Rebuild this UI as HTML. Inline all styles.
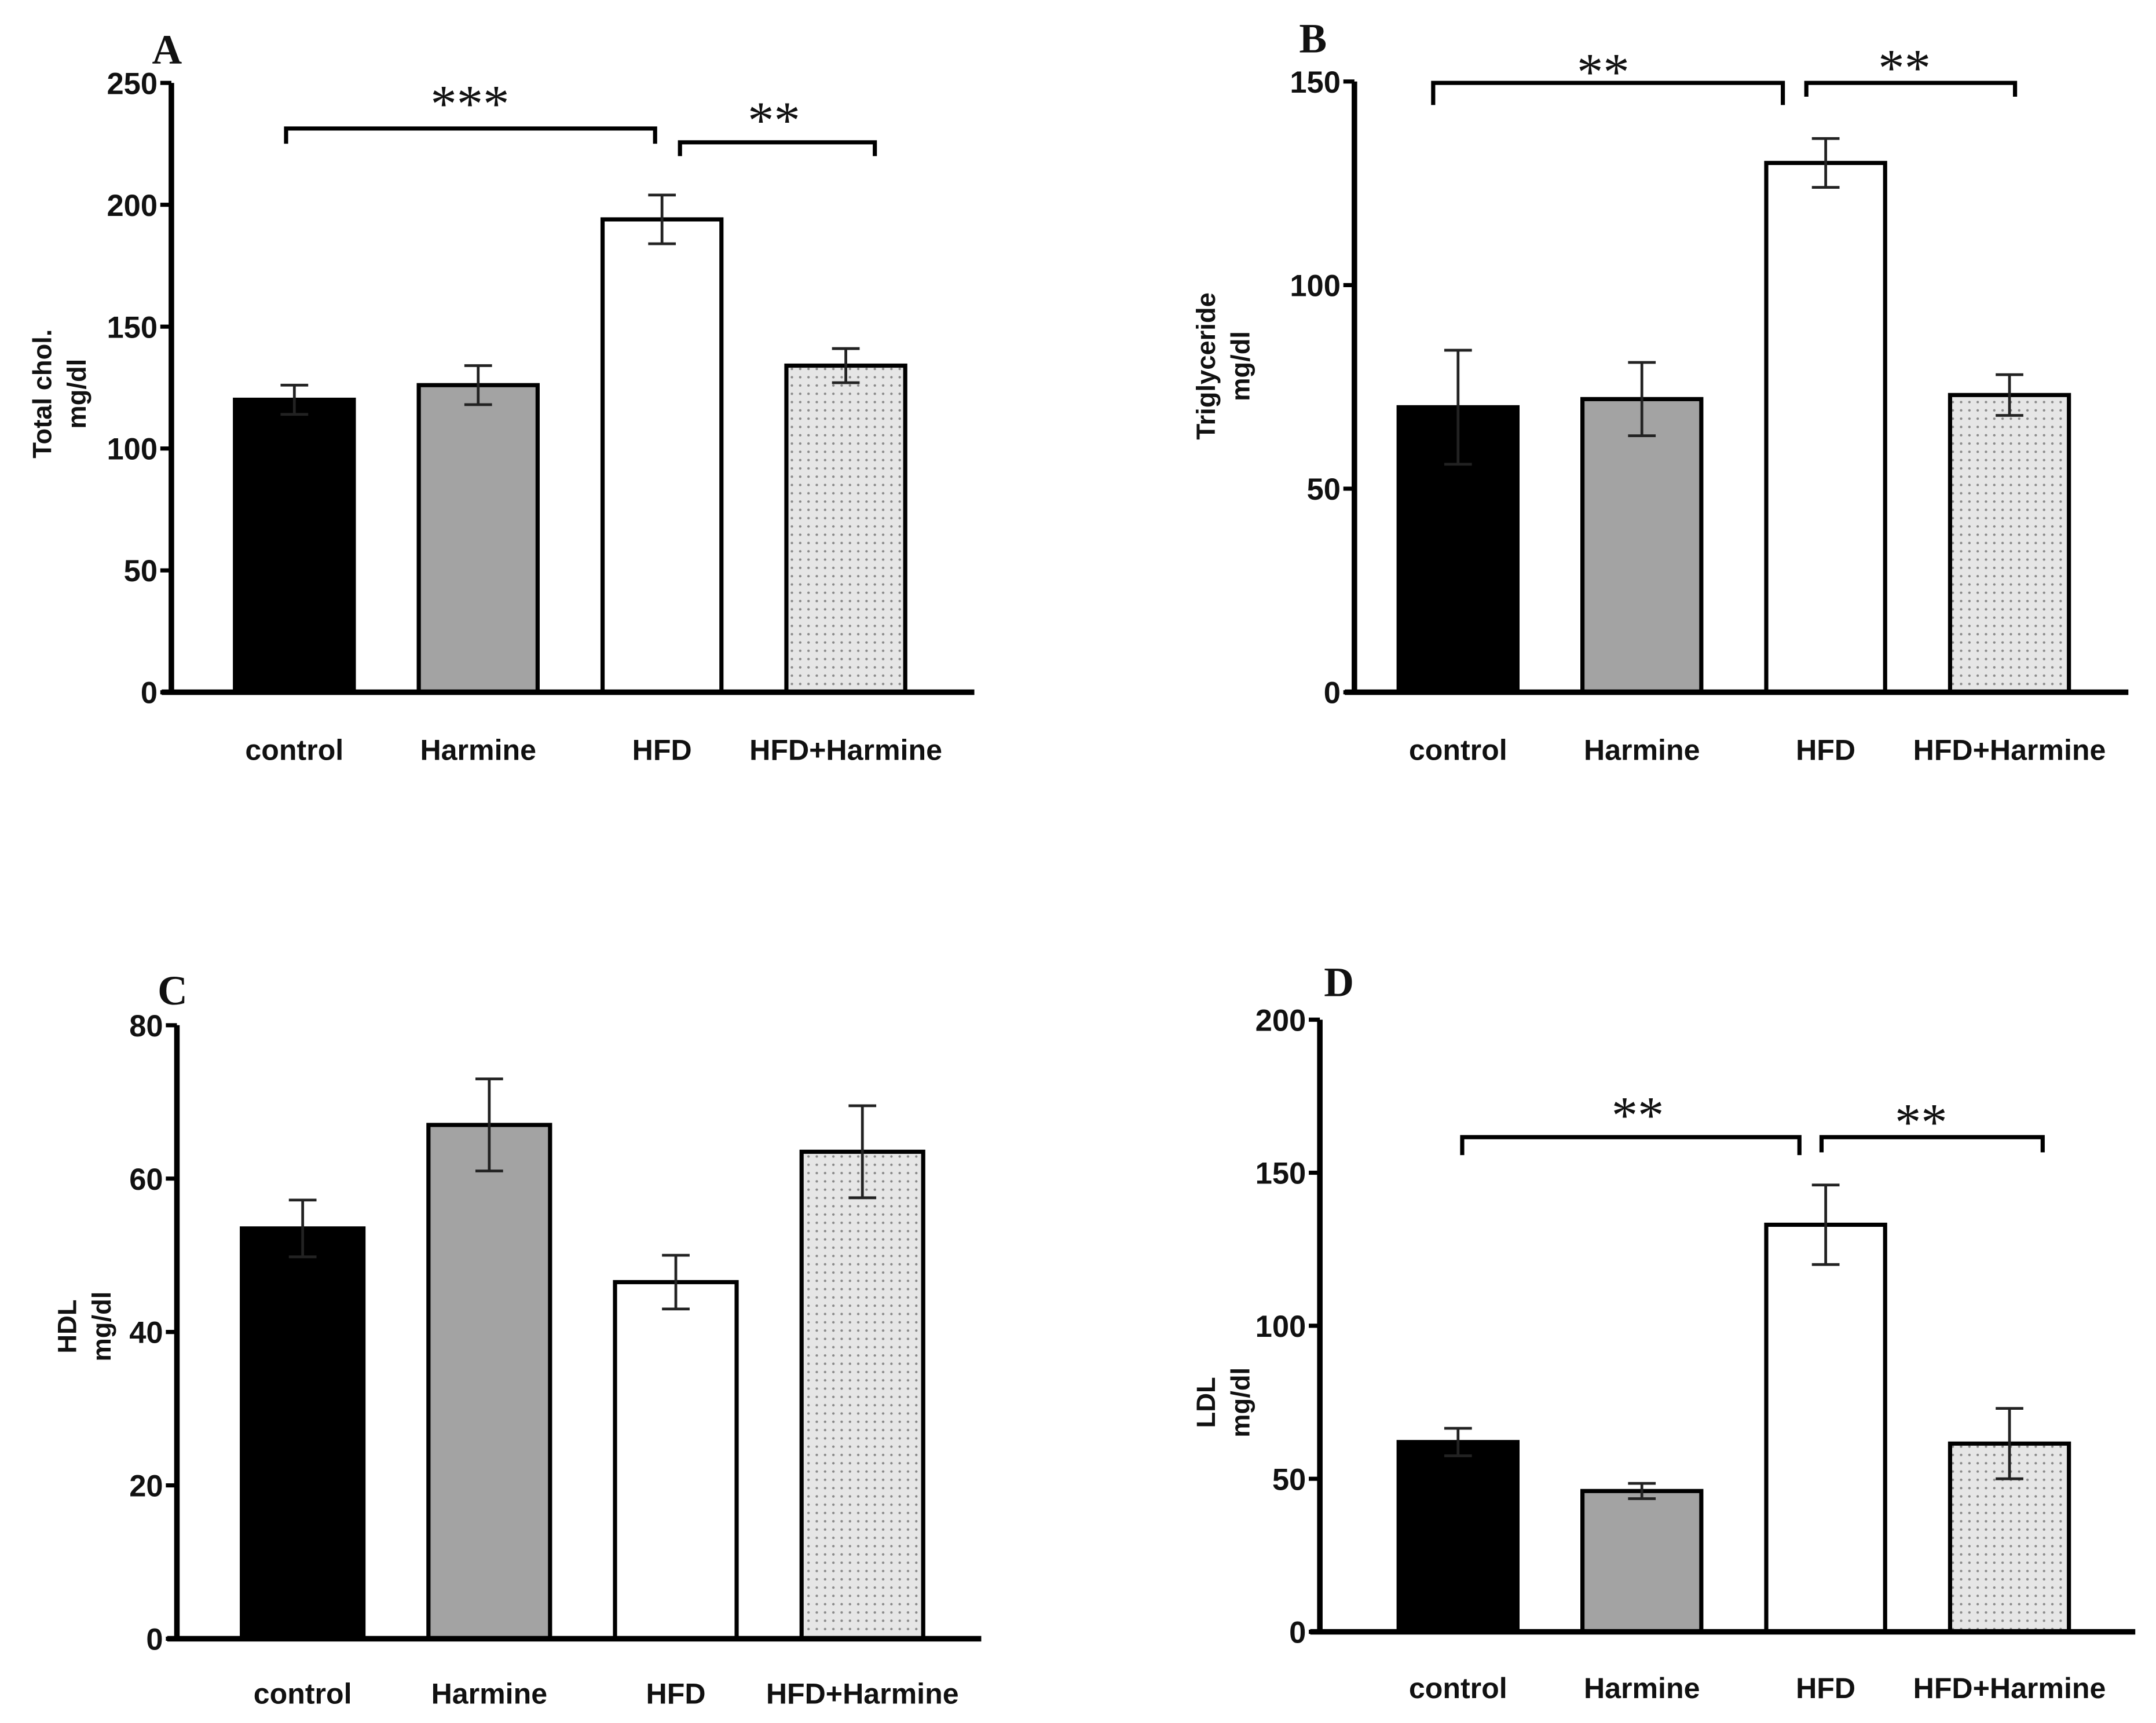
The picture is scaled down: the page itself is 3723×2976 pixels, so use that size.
<!DOCTYPE html>
<html><head><meta charset="utf-8"><style>
html,body{margin:0;padding:0;background:#fff;}
svg{display:block;}
text{font-family:"Liberation Sans Narrow","Liberation Sans",sans-serif;font-weight:bold;fill:#111;}
</style></head><body>
<svg id="fig" width="3723" height="2976" viewBox="0 0 1560 1247" preserveAspectRatio="none" xmlns="http://www.w3.org/2000/svg">
<defs>
<pattern id="dots" width="6" height="6" patternUnits="userSpaceOnUse">
<rect width="6" height="6" fill="#e6e6e6"/><circle cx="3" cy="3" r="0.9" fill="#888"/>
</pattern>
</defs>
</svg>
<script>
const categories = ["control","Harmine","HFD","HFD+Harmine"];
const valuesA = [120,126,194,134];
const errorsA = [6,8,10,7];
const ticksA = [0,50,100,150,200,250];
const valuesB = [70,72,130,73];
const errorsB = [14,9,6,5];
const ticksB = [0,50,100,150];
const valuesC = [53.5,67,46.5,63.5];
const errorsC = [3.7,6,3.5,6];
const ticksC = [0,20,40,60,80];
const valuesD = [62,46,133,61.5];
const errorsD = [4.5,2.5,13,11.5];
const ticksD = [0,50,100,150,200];

const NS="http://www.w3.org/2000/svg";
const svg=document.getElementById('fig');
function mk(tag,attrs,parent){const e=document.createElementNS(NS,tag);for(const k in attrs)e.setAttribute(k,attrs[k]);(parent||svg).appendChild(e);return e;}
const fills=["#000","#a3a3a3","#fff","url(#dots)"];

function panel(cfg){
  const g=mk('g',{});
  
  
  const max=cfg.ticks[cfg.ticks.length-1];
  const y=v=>cfg.y0-(cfg.y0-cfg.yTop)*v/max;
  cfg.values.forEach((v,i)=>{
    const x0=cfg.barX[i], w=cfg.barW;
    const r=mk('rect',{x:x0,y:y(v),width:w,height:cfg.y0-y(v),fill:fills[i],stroke:"#000","stroke-width":3},g);
    
    
    const cx=x0+w/2, e=cfg.errors[i];
    const eb=mk('path',{d:`M${cx},${y(v+e)}V${y(v-e)}M${cx-10},${y(v+e)}H${cx+10}M${cx-10},${y(v-e)}H${cx+10}`,stroke:"#222","stroke-width":2,fill:"none"},g);
    
    
    const t=mk('text',{x:cx,y:cfg.labelY,"text-anchor":"middle","font-size":21},g);
    t.textContent=categories[i];
    
    
  });
  const ax=mk('path',{d:`M${cfg.axX},${cfg.yTop}V${cfg.y0}M${cfg.axX-7},${cfg.y0}H${cfg.axEnd}`,stroke:"#000","stroke-width":4,fill:"none"},g);
  
  
  cfg.ticks.forEach(tv=>{
    const ty=y(tv);
    mk('line',{x1:cfg.axX-8,x2:cfg.axX,y1:ty,y2:ty,stroke:"#000","stroke-width":3},g);
    const t=mk('text',{x:cfg.axX-10,y:ty+8,"text-anchor":"end","font-size":22},g);
    t.textContent=tv;
    
    
  });
  const tt=mk('text',{transform:`translate(${cfg.titleX},${cfg.titleY}) rotate(-90)`,"text-anchor":"middle","font-size":19,style:"font-family:'Liberation Sans',sans-serif"},g);
  tt.textContent=cfg.title;
  
  
  const tu=mk('text',{transform:`translate(${cfg.titleX+25},${cfg.titleY}) rotate(-90)`,"text-anchor":"middle","font-size":19,style:"font-family:'Liberation Sans',sans-serif"},g);
  tu.textContent="mg/dl";
  
  
  const L=mk('text',{x:cfg.letter[0],y:cfg.letter[1],"font-size":30,style:"font-family:'Liberation Serif',serif;font-weight:bold"},g);
  L.textContent=cfg.id;
  
  
  (cfg.brackets||[]).forEach(b=>{
    const p=mk('path',{d:`M${b[0]},${b[3]}V${b[2]}H${b[1]}V${b[3]}`,stroke:"#000","stroke-width":3,fill:"none"},g);
    
    
    const s=mk('text',{x:b[4],y:b[5],"text-anchor":"middle","font-size":38,style:"font-family:'Liberation Serif',serif;font-weight:normal"},g);
    s.textContent=b[6];
    
    
  });
}
panel({id:"A",values:valuesA,errors:errorsA,ticks:ticksA,axX:124,yTop:60,y0:501,axEnd:705,barX:[170,303,436,569],barW:86,labelY:550,title:"Total chol.",titleX:37,titleY:285,letter:[110,46],
 brackets:[[207,474,93,104,340,88,"***"],[492,633,103,113,560,100,"**"]]});
panel({id:"B",values:valuesB,errors:errorsB,ticks:ticksB,axX:980,yTop:59,y0:501,axEnd:1540,barX:[1012,1145,1278,1411],barW:86,labelY:550,title:"Triglyceride",titleX:879,titleY:265,letter:[940,38],
 brackets:[[1037,1290,60,76,1160,65,"**"],[1307,1458,60,70,1378,62,"**"]]});
panel({id:"C",values:valuesC,errors:errorsC,ticks:ticksC,axX:128,yTop:742,y0:1186,axEnd:710,barX:[175,310,445,580],barW:88,labelY:1233,title:"HDL",titleX:55,titleY:960,letter:[114,727]});
panel({id:"D",values:valuesD,errors:errorsD,ticks:ticksD,axX:955,yTop:738,y0:1181,axEnd:1545,barX:[1012,1145,1278,1411],barW:86,labelY:1229,title:"LDL",titleX:879,titleY:1015,letter:[958,721],
 brackets:[[1058,1302,823,836,1185,820,"**"],[1318,1478,823,834,1390,825,"**"]]});
</script>
</body></html>
